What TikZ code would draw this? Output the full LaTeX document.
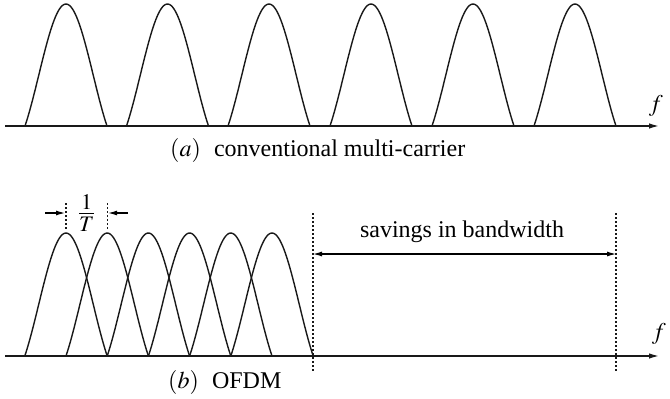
\documentclass[tikz,border=0pt]{standalone}
\usepackage{mathptmx}
\usepackage{fontspec}
\setmainfont{Liberation Serif}
\usetikzlibrary{arrows.meta}
\tikzset{
  lobe/.style={line width=1.4pt, black!90},
  axis/.style={line width=1.4pt, black!90, -{Latex[length=10pt,width=5.5pt]}},
  guide/.style={line width=1.3pt, black!90, dash pattern=on 2pt off 2pt},
  dim/.style={line width=1.1pt, black, {Latex[length=9pt,width=5pt]}-{Latex[length=9pt,width=5pt]}},
  pointer/.style={line width=1.1pt, black, -{Latex[length=9pt,width=5pt]}},
  lbl/.style={font=\fontsize{24}{28}\selectfont, inner sep=0pt},
}
\begin{document}
\begin{tikzpicture}[x=1pt,y=-1pt]
\useasboundingbox (0,0) rectangle (670,399);
% (a) conventional multi-carrier
\coordinate (ta0) at (5,126);
\coordinate (ta1) at (659,126);
\draw[axis] (ta0) -- (ta1);
\foreach \c in {66,167.5,269,371,473,575}
  \draw[lobe] plot[domain=-1:1, samples=60, smooth, variable=\u]
    ({\c+41*\u},{126-122*sin(180*\u)/(pi*\u)});
\node[lbl] (fa) at (656,106) {$f$};
\node[lbl, anchor=west] (capa) at (170,150) {$(a)$\hspace{0.55em}conventional multi-carrier};
% (b) OFDM
\coordinate (ba0) at (5,356);
\coordinate (ba1) at (659,356);
\draw[axis] (ba0) -- (ba1);
\foreach \k in {0,...,5}
  \draw[lobe] plot[domain=-1:1, samples=60, smooth, variable=\u]
    ({66+41.2*\k+41.2*\u},{356-123*sin(180*\u)/(pi*\u)});
\node[lbl] (fb) at (659,334) {$f$};
\node[lbl, anchor=west] (capb) at (168,382) {$(b)$\hspace{0.55em}OFDM};
% savings in bandwidth
\coordinate (g1t) at (313,213);
\coordinate (g1b) at (313,372);
\coordinate (g2t) at (616,213);
\coordinate (g2b) at (616,372);
\draw[guide] (g1t) -- (g1b);
\draw[guide] (g2t) -- (g2b);
\coordinate (s1) at (313,254);
\coordinate (s2) at (616,254);
\draw[dim] (s1) -- (s2);
\node[lbl] (sav) at (462,232) {savings in bandwidth};
% 1/T spacing
\coordinate (p1t) at (66,203);
\coordinate (p1b) at (66,229);
\coordinate (p2t) at (107.2,203);
\coordinate (p2b) at (107.2,229);
\draw[guide] (p1t) -- (p1b);
\draw[guide] (p2t) -- (p2b);
\coordinate (l0) at (45,213);
\coordinate (l1) at (65,213);
\coordinate (r0) at (128,213);
\coordinate (r1) at (108.2,213);
\draw[pointer] (l0) -- (l1);
\draw[pointer] (r0) -- (r1);
\node[lbl, font=\fontsize{30}{32}\selectfont] (invT) at (86.6,213) {$\frac{1}{T}$};
\end{tikzpicture}
\end{document}
